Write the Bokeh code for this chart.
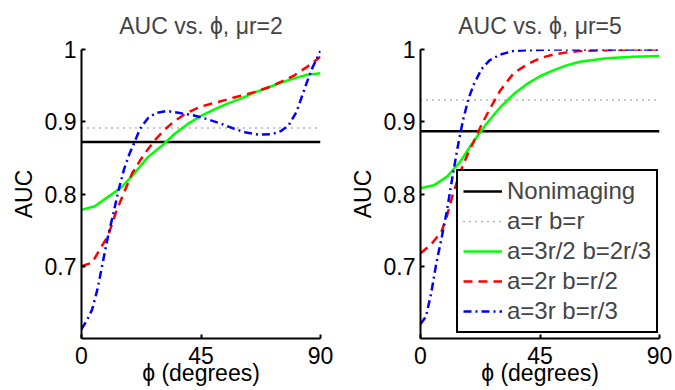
from bokeh.plotting import figure
from bokeh.layouts import row
from bokeh.models import Range1d, FixedTicker, Legend, LegendItem
from bokeh.embed import file_html
from bokeh.resources import INLINE

# ---------------- data ----------------
titles = ["AUC vs. ϕ, μr=2", "AUC vs. ϕ, μr=5"]
x_label = "ϕ (degrees)"
y_label = "AUC"
x_ticks = [0, 45, 90]
y_ticks = [0.7, 0.8, 0.9, 1.0]
y_tick_labels = ["0.7", "0.8", "0.9", "1"]
legend_labels = ["Nonimaging", "a=r b=r", "a=3r/2 b=2r/3", "a=2r b=r/2", "a=3r b=r/3"]

const_x = [0, 90]
nonimaging = [0.872, 0.887]
equal_ab = [0.8915, 0.930]

# mu r = 2
green_x_2 = [0, 5, 10, 15, 20, 25, 30, 35, 40, 45, 50, 55, 60, 65, 70, 75, 80, 85, 90]
green_y_2 = [0.778, 0.783, 0.796, 0.809, 0.829, 0.851, 0.866, 0.883, 0.897, 0.908, 0.917,
             0.925, 0.932, 0.940, 0.947, 0.954, 0.960, 0.965, 0.967]
red_x_2 = [0, 4, 8, 10, 13, 16, 19, 22, 25, 28, 31, 35, 40, 45, 50, 55, 60, 65, 70, 75, 80, 85, 90]
red_y_2 = [0.700, 0.705, 0.730, 0.742, 0.775, 0.802, 0.828, 0.846, 0.862, 0.876, 0.888, 0.901,
           0.913, 0.921, 0.926, 0.931, 0.936, 0.941, 0.947, 0.955, 0.964, 0.976, 0.990]
blue_x_2 = [0, 2, 4, 6, 8, 10, 12, 14, 16, 18, 20, 22, 25, 28, 32, 37, 42, 47, 52, 57, 62, 67,
            72, 75, 78, 81, 83, 85, 87, 90]
blue_y_2 = [0.613, 0.625, 0.640, 0.668, 0.705, 0.742, 0.773, 0.806, 0.834, 0.855, 0.872, 0.890,
            0.905, 0.912, 0.915, 0.912, 0.909, 0.904, 0.898, 0.891, 0.885, 0.882, 0.883, 0.887,
            0.895, 0.914, 0.935, 0.956, 0.975, 0.998]

# mu r = 5
green_x_5 = [0, 5, 10, 15, 20, 25, 30, 35, 40, 45, 50, 55, 60, 70, 80, 90]
green_y_5 = [0.808, 0.812, 0.824, 0.845, 0.873, 0.898, 0.920, 0.938, 0.952, 0.963, 0.971,
             0.978, 0.983, 0.988, 0.990, 0.991]
red_x_5 = [0, 4, 8, 10, 12, 14, 16, 18, 20, 23, 26, 30, 35, 40, 45, 50, 55, 60, 70, 80, 90]
red_y_5 = [0.718, 0.730, 0.749, 0.770, 0.797, 0.820, 0.840, 0.857, 0.872, 0.896, 0.917, 0.943,
           0.967, 0.979, 0.988, 0.993, 0.996, 0.998, 0.999, 1.0, 1.0]
blue_x_5 = [0, 2, 4, 6, 8, 10, 12, 14, 16, 18, 20, 23, 26, 30, 35, 40, 50, 60, 90]
blue_y_5 = [0.620, 0.630, 0.662, 0.705, 0.740, 0.778, 0.823, 0.865, 0.902, 0.931, 0.951, 0.973,
            0.985, 0.993, 0.998, 0.999, 1.0, 1.0, 1.0]

FONT = "Liberation Sans"
FS = "23px"


def make_panel(idx, width, left, right, gx, gy, rx, ry, bx, by):
    p = figure(width=width, height=390, output_backend="svg", toolbar_location=None,
               x_range=Range1d(0, 90), y_range=Range1d(0.6, 1.0),
               min_border_left=left, min_border_right=right,
               min_border_top=48, min_border_bottom=52)
    p.outline_line_color = None
    p.grid.visible = False
    p.background_fill_color = "white"
    p.border_fill_color = "white"

    p.title.text = titles[idx]
    p.title.align = "center"
    p.title.text_font = FONT
    p.title.text_font_size = FS
    p.title.text_font_style = "normal"
    p.title.standoff = 21

    for ax in (p.xaxis[0], p.yaxis[0]):
        ax.axis_line_width = 2
        ax.axis_line_color = "black"
        ax.major_tick_in = 4
        ax.major_tick_out = 0
        ax.major_tick_line_width = 2
        ax.minor_tick_in = 0
        ax.minor_tick_out = 0
        ax.major_label_text_font = FONT
        ax.major_label_text_font_size = FS
        ax.major_label_text_color = "black"
        ax.axis_label_text_font = FONT
        ax.axis_label_text_font_size = FS
        ax.axis_label_text_font_style = "normal"
        ax.axis_label_text_color = "black"

    p.xaxis.ticker = FixedTicker(ticks=x_ticks)
    p.xaxis.axis_label = x_label
    p.xaxis.major_label_standoff = 8
    p.xaxis.axis_label_standoff = -7

    p.yaxis.ticker = FixedTicker(ticks=y_ticks)
    p.yaxis.major_label_overrides = {t: l for t, l in zip(y_ticks, y_tick_labels)}
    p.yaxis.axis_label = y_label
    p.yaxis.major_label_standoff = 5
    p.yaxis.axis_label_standoff = 5

    r0 = p.line(const_x, [nonimaging[idx]] * 2, line_color="black", line_width=2.5)
    r1 = p.line(const_x, [equal_ab[idx]] * 2, line_color="#707070", line_width=1.5,
                line_dash="1 5")
    r2 = p.line(gx, gy, line_color="#00ff00", line_width=2.5)
    r3 = p.line(rx, ry, line_color="#ff0000", line_width=2.5, line_dash="9 6")
    r4 = p.line(bx, by, line_color="#0000ff", line_width=2.5, line_dash="8 4 2 4")
    return p, [r0, r1, r2, r3, r4]


p1, _ = make_panel(0, 340, 81, 20, green_x_2, green_y_2, red_x_2, red_y_2, blue_x_2, blue_y_2)
p2, rs = make_panel(1, 335, 80, 16, green_x_5, green_y_5, red_x_5, red_y_5, blue_x_5, blue_y_5)

legend = Legend(items=[LegendItem(label=lab, renderers=[r]) for lab, r in zip(legend_labels, rs)],
                location=(36, 5), margin=0, padding=5, spacing=0,
                label_height=30, glyph_height=30, glyph_width=39, label_standoff=5,
                label_text_font=FONT, label_text_font_size="24px",
                border_line_color="black", border_line_width=2, border_line_alpha=1.0,
                background_fill_color="white", background_fill_alpha=1.0)
p2.add_layout(legend, "center")

layout = row(p1, p2)
open("out.html", "w").write(file_html(layout, INLINE))
